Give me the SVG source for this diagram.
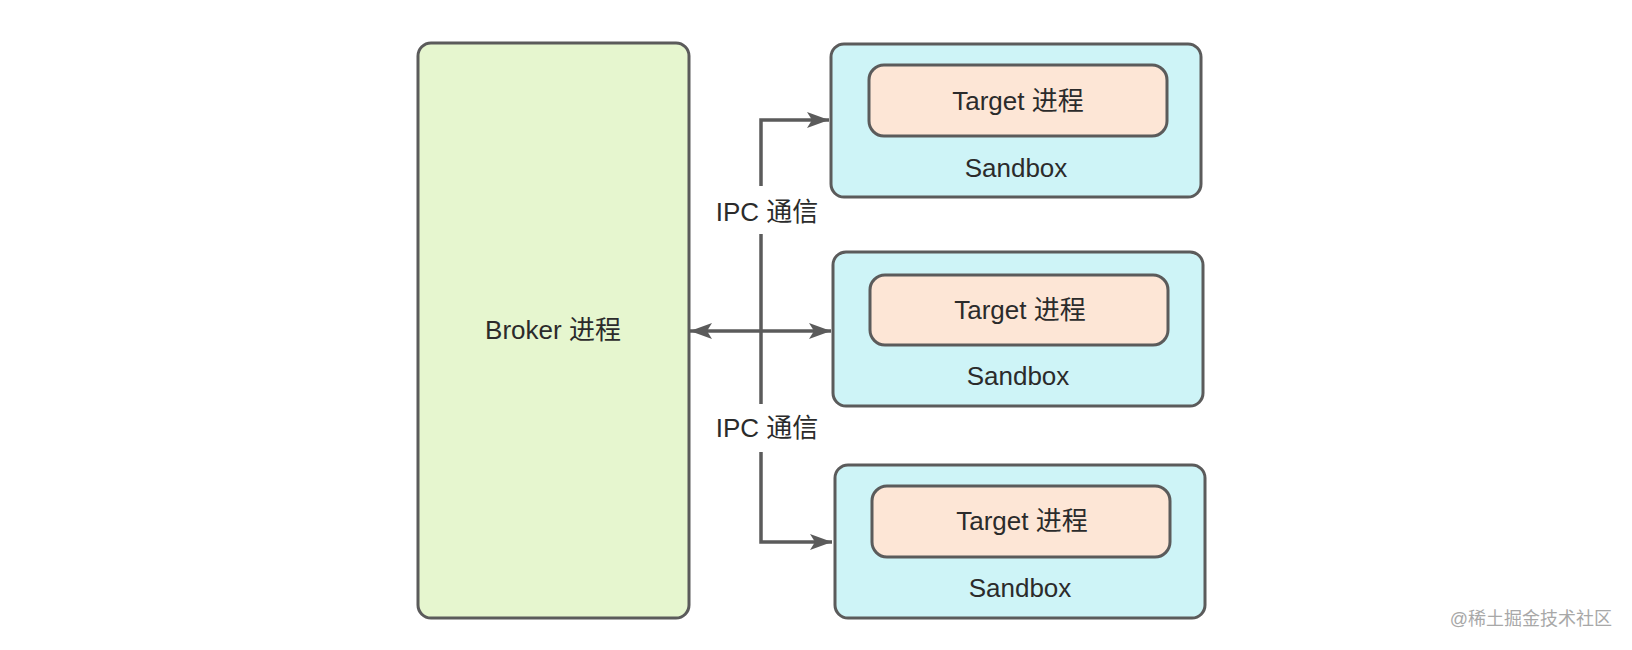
<svg xmlns="http://www.w3.org/2000/svg" width="1632" height="650" viewBox="0 0 1632 650">
<defs>
<style>
.box{stroke:#5b5b5b;stroke-width:3}
.broker{fill:#e6f6cf}
.sandbox{fill:#cef4f7}
.target{fill:#fde6d6}
.t{font-family:"Liberation Sans","Noto Sans CJK SC",sans-serif;font-size:26px;fill:#2b2b2b;text-anchor:middle}
.wm{font-family:"Liberation Sans","Noto Sans CJK SC",sans-serif;font-size:18px;fill:#a8a8a8;text-anchor:end}
.ln{fill:none;stroke:#5b5b5b;stroke-width:3.5}
</style>
<marker id="ah" viewBox="0 0 22 16" refX="22" refY="8" markerWidth="22" markerHeight="16" markerUnits="userSpaceOnUse" orient="auto-start-reverse">
<path d="M0,0 L22,8 L0,16 L5,8 Z" fill="#5b5b5b"/>
</marker>
</defs>
<rect width="1632" height="650" fill="#ffffff"/>
<g id="broker">
<rect class="box broker" x="418" y="43" width="271" height="575" rx="13"/>
<text class="t" x="553" y="339">Broker 进程</text>
</g>
<g id="sandbox1">
<rect class="box sandbox" x="831" y="44" width="370" height="153" rx="13"/>
<rect class="box target" x="869" y="65" width="298" height="71" rx="15"/>
<text class="t" x="1018" y="110">Target 进程</text>
<text class="t" x="1016" y="177">Sandbox</text>
</g>
<g id="sandbox2">
<rect class="box sandbox" x="833" y="252" width="370" height="154" rx="13"/>
<rect class="box target" x="870" y="275" width="298" height="70" rx="15"/>
<text class="t" x="1020" y="319">Target 进程</text>
<text class="t" x="1018" y="385">Sandbox</text>
</g>
<g id="sandbox3">
<rect class="box sandbox" x="835" y="465" width="370" height="153" rx="13"/>
<rect class="box target" x="872" y="486" width="298" height="71" rx="15"/>
<text class="t" x="1022" y="530">Target 进程</text>
<text class="t" x="1020" y="597">Sandbox</text>
</g>
<g id="connectors">
<path class="ln" d="M761,186 V120 H829" marker-end="url(#ah)"/>
<path class="ln" d="M761,234 V404"/>
<path class="ln" d="M761,452 V542 H832" marker-end="url(#ah)"/>
<path class="ln" d="M690,331 H831" marker-start="url(#ah)" marker-end="url(#ah)"/>
<text class="t" x="767" y="221">IPC 通信</text>
<text class="t" x="767" y="437">IPC 通信</text>
</g>
<text class="wm" x="1612" y="625">@稀土掘金技术社区</text>
</svg>
